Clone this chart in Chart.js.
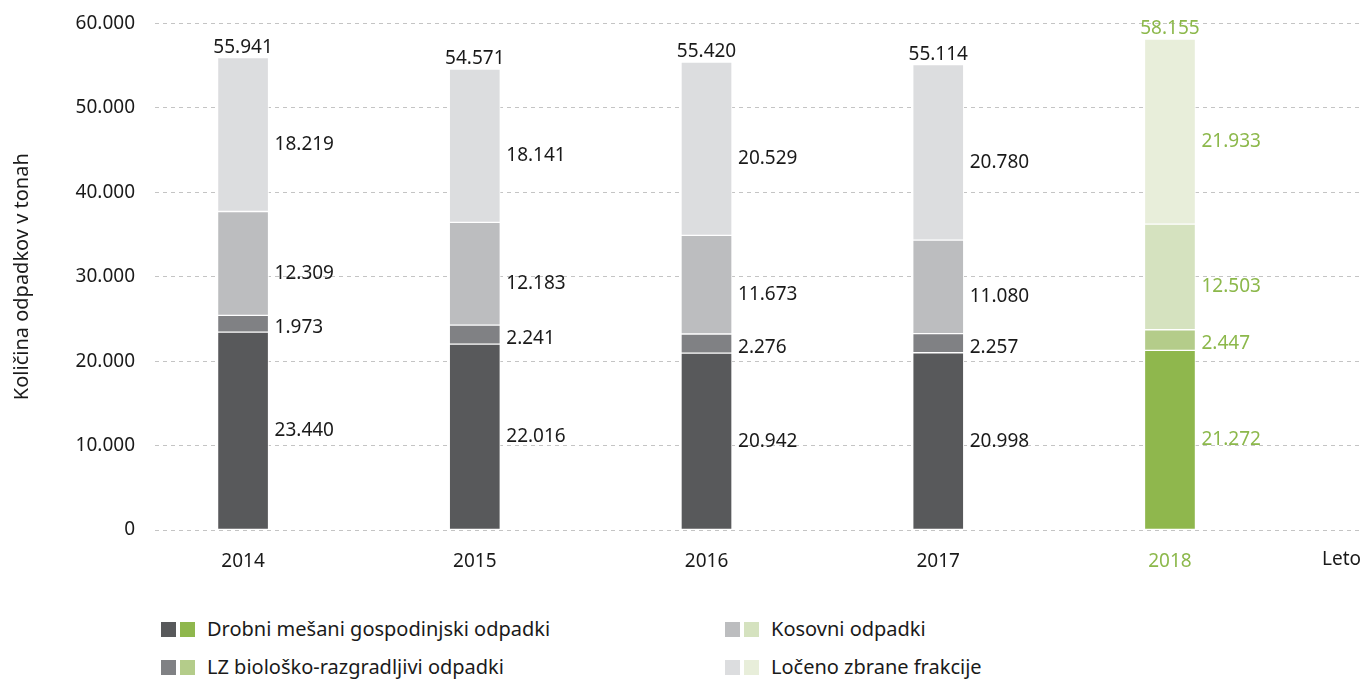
<!DOCTYPE html>
<html>
<head>
<meta charset="utf-8">
<script src="https://cdn.jsdelivr.net/npm/chart.js@4"></script>
<style>
	body { margin: 0; background: #fff; font-family: "Noto Sans", sans-serif; }
	#wrap { position: relative; width: 1363px; height: 679px; overflow: hidden; }
	#mycanvas { position: absolute; left: 0; top: -8px; }
	.leg { position: absolute; font-size: 20px; color: #1a1a1a; white-space: nowrap; line-height: 20px; }
	.sw { display: inline-block; width: 15px; height: 15px; margin-right: 4px; vertical-align: -1px; }
	.leg span.t { margin-left: 8px; }
</style>
</head>
<body>
<div id="wrap">
	<canvas id="mycanvas" width="1363" height="608"></canvas>
	<div id="legend"></div>
</div>
<script>
var years = [2014, 2015, 2016, 2017, 2018];
var seriesNames = ['Drobni mešani gospodinjski odpadki', 'LZ biološko-razgradljivi odpadki', 'Kosovni odpadki', 'Ločeno zbrane frakcije'];
var drobni = [23440, 22016, 20942, 20998, 21272];
var lzBio = [1973, 2241, 2276, 2257, 2447];
var kosovni = [12309, 12183, 11673, 11080, 12503];
var loceno = [18219, 18141, 20529, 20780, 21933];
var totals = [55941, 54571, 55420, 55114, 58155];
var yTicks = [0, 10000, 20000, 30000, 40000, 50000, 60000];

var greys = ['#58595b', '#808184', '#bcbdbf', '#dcdddf'];
var greens = ['#8fb74d', '#b4cc8a', '#d5e2bf', '#e8eeda'];
var green = '#8cb84b';
var black = '#1a1a1a';

function fmt(v) {
	return String(v).replace(/\B(?=(\d{3})+(?!\d))/g, '.');
}

function colorsFor(i) {
	var c = [];
	for (var k in years) {
		c.push(years[k] === 2018 ? greens[i] : greys[i]);
	}
	return c;
}

var all = [drobni, lzBio, kosovni, loceno];
var datasets = [];
for (var i in all) {
	var pts = [];
	for (var k in years) pts.push({ x: years[k], y: all[i][k] });
	datasets.push({
		label: seriesNames[i],
		data: pts,
		backgroundColor: colorsFor(i),
		borderColor: '#ffffff',
		borderWidth: 1,
		borderSkipped: false,
		barThickness: 51
	});
}

var labelPlugin = {
	id: 'labels',
	afterDatasetsDraw: function(chart) {
		var ctx = chart.ctx;
		ctx.save();
		ctx.font = '19px "Noto Sans"';
		ctx.textBaseline = 'middle';
		chart.data.datasets.forEach(function(ds, i) {
			var meta = chart.getDatasetMeta(i);
			meta.data.forEach(function(el, k) {
				var p = el.getProps(['x', 'y', 'base', 'width'], true);
				ctx.fillStyle = years[k] === 2018 ? green : black;
				ctx.textAlign = 'left';
				var off = (i === 1) ? 4 : (i === 0 ? 0 : 10);
				ctx.fillText(fmt(all[i][k]), p.x + p.width / 2 + 6, (p.y + p.base) / 2 + off);
				if (i === chart.data.datasets.length - 1) {
					ctx.textAlign = 'center';
					ctx.textBaseline = 'bottom';
					ctx.fillText(fmt(totals[k]), p.x, p.y - 1);
					ctx.textBaseline = 'middle';
				}
			});
		});
		// x axis name
		ctx.fillStyle = black;
		ctx.textAlign = 'right';
		ctx.font = '19px "Noto Sans"';
		ctx.fillText('Leto', chart.chartArea.right - 2, chart.chartArea.bottom + 30);
		ctx.restore();
	}
};

var ctx = document.getElementById('mycanvas');
var barGraph = new Chart(ctx, {
	type: 'bar',
	data: { datasets: datasets },
	plugins: [labelPlugin],
	options: {
		responsive: false,
		animation: false,
		layout: { padding: { top: 15, right: 0, left: 10, bottom: 0 } },
		plugins: { legend: { display: false }, tooltip: { enabled: false } },
		scales: {
			x: {
				type: 'linear',
				stacked: true,
				offset: false,
				min: 2013.62,
				max: 2018.833,
				afterBuildTicks: function(scale) {
					scale.ticks = years.map(function(v) { return { value: v }; });
				},
				afterFit: function(scale) { scale.height = 70; },
				grid: { display: false, drawTicks: false },
				border: { display: false },
				ticks: {
					autoSkip: false,
					padding: 20,
					font: { family: 'Noto Sans', size: 19 },
					color: function(c) { return c.tick && c.tick.value === 2018 ? green : black; },
					callback: function(v) { return String(v); }
				}
			},
			y: {
				stacked: true,
				min: 0,
				max: 60000,
				afterBuildTicks: function(scale) {
					scale.ticks = yTicks.map(function(v) { return { value: v }; });
				},
				afterFit: function(scale) { scale.width = 145; },
				grid: { color: '#c4c4c4', drawTicks: false },
				border: { display: false, dash: [4, 4] },
				ticks: {
					padding: 20,
					font: { family: 'Noto Sans', size: 19 },
					color: black,
					callback: function(v) { return fmt(v); }
				},
				title: {
					display: true,
					text: 'Količina odpadkov v tonah',
					font: { family: 'Noto Sans', size: 20 },
					color: black,
					padding: { top: 0, bottom: 0 }
				}
			}
		}
	}
});

// legend with double swatches
var legPos = [
	{ left: 161, top: 619 },
	{ left: 161, top: 657 },
	{ left: 725, top: 619 },
	{ left: 725, top: 657 }
];
var legendHtml = '';
for (var i in seriesNames) {
	legendHtml += '<div class="leg" style="left:' + legPos[i].left + 'px;top:' + legPos[i].top + 'px">' +
		'<span class="sw" style="background:' + greys[i] + '"></span>' +
		'<span class="sw" style="background:' + greens[i] + '"></span>' +
		'<span class="t">' + seriesNames[i] + '</span></div>';
}
document.getElementById('legend').innerHTML = legendHtml;
</script>
</body>
</html>
